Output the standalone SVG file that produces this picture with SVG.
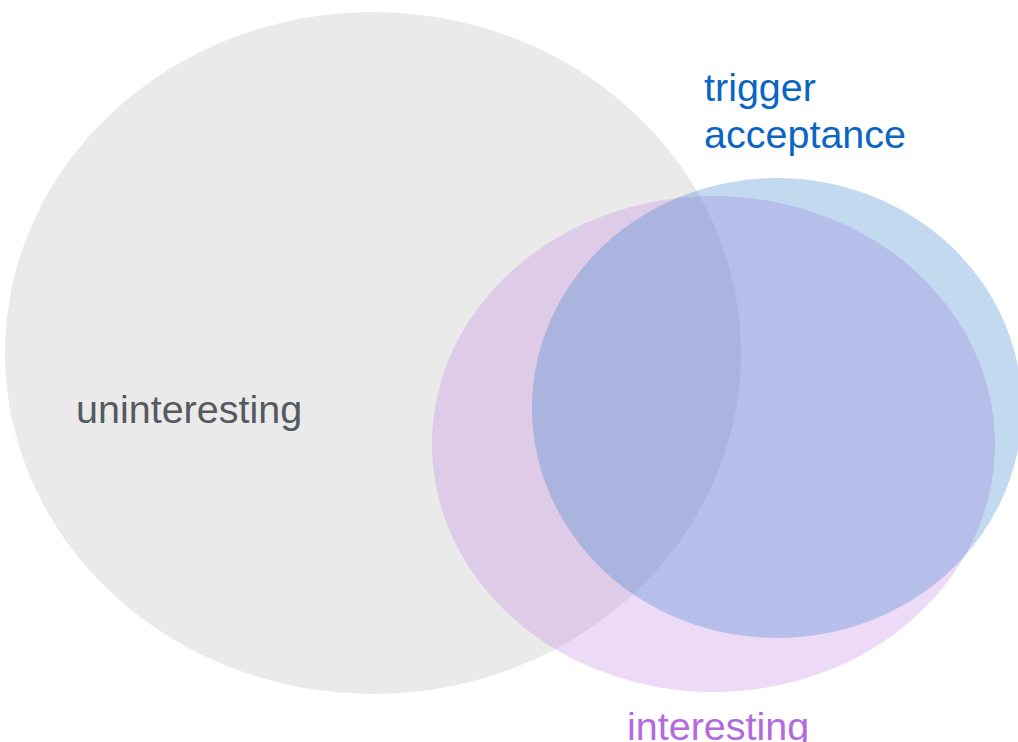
<svg xmlns="http://www.w3.org/2000/svg" width="1018" height="742" viewBox="0 0 1018 742">
<style>
text{font-family:"Liberation Sans",Arial,sans-serif;font-size:39.5px}
.gray{fill:#eaeaea}
.purple{fill:#bf84e1;fill-opacity:0.3}
.blue{fill:#3780ca;fill-opacity:0.3}
</style>
<rect width="1018" height="742" fill="#ffffff"/>
<g id="uninteresting">
<ellipse class="gray" cx="373" cy="353" rx="368" ry="341"/>
<text x="76" y="423" fill="#555a61">uninteresting</text>
</g>
<g id="interesting">
<ellipse class="purple" cx="713.5" cy="444" rx="281.5" ry="248"/>
<text x="627" y="740" fill="#b36ae0">interesting</text>
</g>
<g id="trigger-acceptance">
<ellipse class="blue" cx="777" cy="408" rx="245" ry="230"/>
<text fill="#0a66c2"><tspan x="704" y="101">trigger</tspan><tspan x="704" y="148">acceptance</tspan></text>
</g>
<g id="connectors"/>
</svg>
